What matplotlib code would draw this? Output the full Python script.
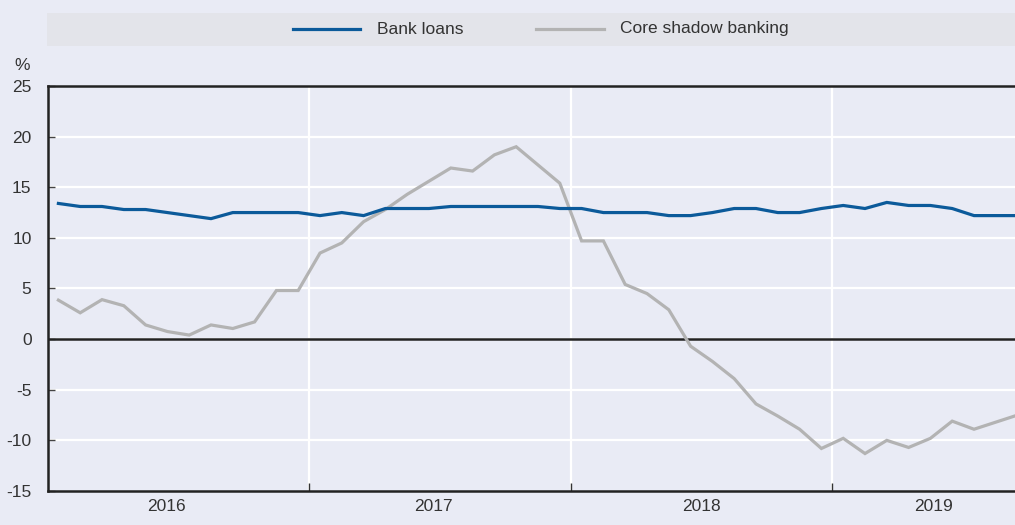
import matplotlib
matplotlib.use("Agg")
import matplotlib.pyplot as plt
from matplotlib.patches import Rectangle
from matplotlib.lines import Line2D
import numpy as np

plt.rcParams['font.family'] = ['Liberation Sans', 'DejaVu Sans']

# Monthly data, Jan 2016 onwards (% y-o-y)
bank_loans = [13.4, 13.1, 13.1, 12.8, 12.8, 12.5, 12.2, 11.9, 12.5, 12.5, 12.5, 12.5,
              12.2, 12.5, 12.2, 12.9, 12.9, 12.9, 13.1, 13.1, 13.1, 13.1, 13.1, 12.9,
              12.9, 12.5, 12.5, 12.5, 12.2, 12.2, 12.5, 12.9, 12.9, 12.5, 12.5, 12.9,
              13.2, 12.9, 13.5, 13.2, 13.2, 12.9, 12.2, 12.2, 12.2]
shadow_banking = [3.85, 2.6, 3.9, 3.3, 1.4, 0.75, 0.4, 1.4, 1.05, 1.7, 4.8, 4.8,
                  8.5, 9.5, 11.6, 12.8, 14.3, 15.6, 16.9, 16.6, 18.2, 19.0, 17.2, 15.4,
                  9.7, 9.7, 5.4, 4.5, 2.9, -0.7, -2.2, -3.9, -6.4, -7.6, -8.9, -10.8,
                  -9.8, -11.3, -10.0, -10.7, -9.8, -8.1, -8.9, -8.2, -7.5]
years = ["2016", "2017", "2018", "2019"]
year_label_pos = [5.45, 17.7, 30.0, 40.65]
yticks = [-15, -10, -5, 0, 5, 10, 15, 20, 25]

bg = "#E9EBF5"
blue = "#0B5A9A"
grey = "#B3B3B3"
txt = "#333333"
fs = 12.5

fig = plt.figure(figsize=(10.15, 5.25), dpi=100, facecolor=bg)
ax = fig.add_axes([47.5/1015, 1 - 491/525, 1 - 47.5/1015, (491 - 86)/525])
ax.set_facecolor(bg)

x = np.arange(len(bank_loans)) + 0.5
ax.set_xlim(0, (1015 - 47.5) / 21.8)
ax.set_ylim(-15, 25)

# grid
for yv in yticks[1:-1]:
    ax.axhline(yv, color="white", lw=1.6, zorder=1)
for xv in [12, 24, 36]:
    ax.axvline(xv, color="white", lw=1.6, zorder=1)
ax.axhline(0, color="#222222", lw=1.8, zorder=2)

ax.plot(x, shadow_banking, color=grey, lw=2.3, zorder=3, solid_joinstyle='miter')
ax.plot(x, bank_loans, color=blue, lw=2.3, zorder=4, solid_joinstyle='miter')

ax.set_yticks(yticks)
ax.set_yticklabels([str(v) for v in yticks], fontsize=fs, color=txt)
ax.tick_params(axis='y', direction='in', length=5, width=1, color="#444444", pad=11.5)

ax.set_xticks([12, 24, 36])
ax.set_xticklabels([])
ax.tick_params(axis='x', which='major', direction='in', length=6, width=1, color="#333333")
ax.set_xticks(year_label_pos, minor=True)
ax.set_xticklabels(years, minor=True, fontsize=fs, color=txt)
ax.tick_params(axis='x', which='minor', length=0, pad=6)

for s in ['left', 'bottom', 'top']:
    ax.spines[s].set_color("#222222")
    ax.spines[s].set_linewidth(1.8)
ax.spines['right'].set_visible(False)

fig.text(14/1015, 1 - 65/525, "%", fontsize=fs, color=txt, ha='left', va='center')

# legend band
fig.patches.append(Rectangle((47/1015, 1 - 45.5/525), 1 - 47/1015, 32.5/525,
                             transform=fig.transFigure, facecolor="#E3E4EA",
                             edgecolor='none', zorder=0))
ly = 1 - 29/525
fig.lines.append(Line2D([293/1015, 360/1015], [ly, ly], transform=fig.transFigure,
                        color=blue, lw=2.3))
fig.text(377/1015, ly, "Bank loans", fontsize=fs, color=txt, ha='left', va='center')
fig.lines.append(Line2D([536/1015, 604/1015], [ly, ly], transform=fig.transFigure,
                        color=grey, lw=2.3))
fig.text(620/1015, ly, "Core shadow banking", fontsize=fs, color=txt, ha='left', va='center')

fig.savefig("out.png", dpi=100, facecolor=bg)
